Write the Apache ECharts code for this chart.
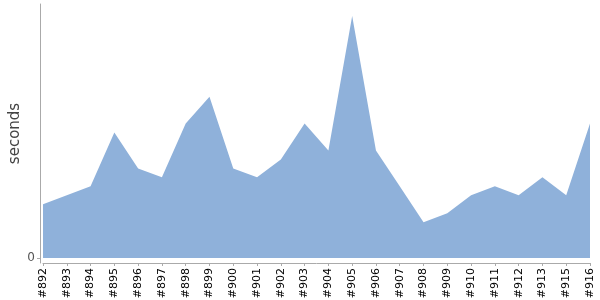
<!DOCTYPE html>
<html>
<head>
<meta charset="utf-8">
<script src="https://cdn.jsdelivr.net/npm/echarts@6/dist/echarts.min.js"></script>
<style>html,body{margin:0;padding:0;background:#fff}#c{width:600px;height:300px}</style>
</head>
<body>
<div id="c"></div>
<script>
var builds = ['#892','#893','#894','#895','#896','#897','#898','#899','#900','#901','#902','#903','#904','#905','#906','#907','#908','#909','#910','#911','#912','#913','#915','#916'];
var seconds = [6,7,8,14,10,9,15,18,10,9,11,15,12,27,12,8,4,5,7,8,7,9,7,15];
var yTicks = [0];

var chart = echarts.init(document.getElementById('c'), null, {renderer:'canvas'});
chart.setOption({
  animation: false,
  backgroundColor: '#fff',
  grid: {left: 43, right: 10, top: 4, bottom: 37, containLabel: false, outerBoundsMode: 'none'},
  xAxis: {
    type: 'category',
    data: builds,
    boundaryGap: false,
    axisLine: {onZero: false, lineStyle: {color: '#aaaaaa', width: 1}},
    axisTick: {show: true, alignWithLabel: true, length: 3, lineStyle: {color: '#aaaaaa'}},
    axisLabel: {rotate: 90, interval: 0, margin: 5, fontFamily: 'DejaVu Sans', fontSize: 11, color: '#000'},
    splitLine: {show: false}
  },
  yAxis: {
    type: 'value',
    min: -0.56,
    max: 28.35,
    offset: 3,
    name: 'seconds',
    nameLocation: 'middle',
    nameGap: 25,
    nameMoveOverlap: false,
    nameRotate: 90,
    nameTextStyle: {fontFamily: 'DejaVu Sans', fontSize: 15, color: '#444444', verticalAlign: 'middle'},
    axisLine: {show: true, lineStyle: {color: '#aaaaaa', width: 1}},
    axisTick: {show: true, length: 3, customValues: yTicks, lineStyle: {color: '#aaaaaa'}},
    axisLabel: {customValues: yTicks, margin: 5, fontFamily: 'DejaVu Sans', fontSize: 12, color: '#555555'},
    splitLine: {show: false}
  },
  series: [{
    type: 'line',
    data: seconds,
    symbol: 'none',
    lineStyle: {width: 0},
    areaStyle: {color: '#8fb1da', opacity: 1, origin: 0},
    itemStyle: {color: '#8fb1da'}
  }]
});
</script>
</body>
</html>
